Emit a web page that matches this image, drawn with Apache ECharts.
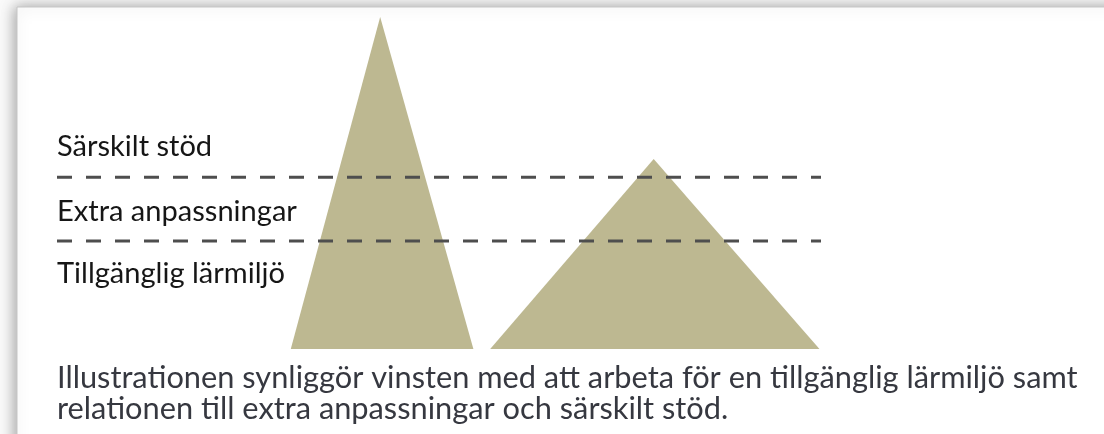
<!DOCTYPE html>
<html>
<head>
<meta charset="utf-8">
<script src="https://cdn.jsdelivr.net/npm/echarts@6/dist/echarts.min.js"></script>
<style>
html,body{margin:0;padding:0;background:#fafafa;}
#chart{width:1104px;height:434px;}
</style>
</head>
<body>
<div id="chart"></div>
<script>
// ---- data ----
const zoneLabels = ['Särskilt stöd', 'Extra anpassningar', 'Tillgänglig lärmiljö'];
const levelLines = [51.7, 32.5];            // dashed boundaries (share of tall pyramid height)
const triangleNames = ['Smal pyramid', 'Bred pyramid'];
const baseStart = [30.6, 56.7];
const apexX = [42.3, 78.1];
const baseEnd = [54.5, 99.8];
const apexHeight = [100, 57.2];
const captionLines = [
  'Illustrationen synliggör vinsten med att arbeta för en tillgänglig lärmiljö samt',
  'relationen till extra anpassningar och särskilt stöd.'
];

const FONT = 'Lato, "Open Sans", sans-serif';
function fitSize(text, target, family) {
  const c = document.createElement('canvas').getContext('2d');
  c.font = '100px ' + family;
  return 100 * target / c.measureText(text).width;
}
const labelSize = fitSize(zoneLabels[1], 240, FONT);
const capSize = fitSize(captionLines[0], 1021, FONT);

const chart = echarts.init(document.getElementById('chart'));

const triData = triangleNames.map((n, i) => [baseStart[i], apexX[i], baseEnd[i], apexHeight[i]]);

const labelY = [147, 212, 274];
const capY = [378, 409];

const option = {
  backgroundColor: '#fafafa',
  animation: false,
  grid: { left: 57, right: 283, top: 17, bottom: 85 },
  xAxis: { type: 'value', min: 0, max: 100, show: false },
  yAxis: { type: 'value', min: 0, max: 100, show: false },
  graphic: [
    {
      type: 'rect', z: -100, silent: true,
      shape: { x: 17, y: 7, width: 1200, height: 500 },
      style: { fill: '#ffffff', stroke: '#c6c6c6', lineWidth: 1,
               shadowBlur: 14, shadowOffsetX: -2, shadowOffsetY: 0, shadowColor: 'rgba(0,0,0,0.35)' }
    }
  ].concat(zoneLabels.map((t, i) => ({
    type: 'text', z: 100, silent: true,
    x: 57, y: labelY[i],
    style: { text: t, font: labelSize.toFixed(2) + 'px ' + FONT, fill: '#161616', verticalAlign: 'middle', align: 'left' }
  }))).concat(captionLines.map((t, i) => ({
    type: 'text', z: 100, silent: true,
    x: 57, y: capY[i],
    style: { text: t, font: capSize.toFixed(2) + 'px ' + FONT, fill: '#363840', verticalAlign: 'middle', align: 'left' }
  }))),
  series: [
    {
      type: 'custom',
      name: 'pyramider',
      data: triData,
      z: 2,
      renderItem: function (params, api) {
        const p1 = api.coord([api.value(0), 0]);
        const p2 = api.coord([api.value(1), api.value(3)]);
        const p3 = api.coord([api.value(2), 0]);
        return {
          type: 'polygon',
          shape: { points: [p1, p2, p3] },
          style: { fill: '#bdb891' }
        };
      }
    }
  ].concat(levelLines.map((lv) => ({
    type: 'line',
    z: 5,
    symbol: 'none',
    data: [[0, lv], [100, lv]],
    lineStyle: { color: '#4e4e4e', width: 3, type: [15, 14] }
  })))
};
chart.setOption(option);
</script>
</body>
</html>
